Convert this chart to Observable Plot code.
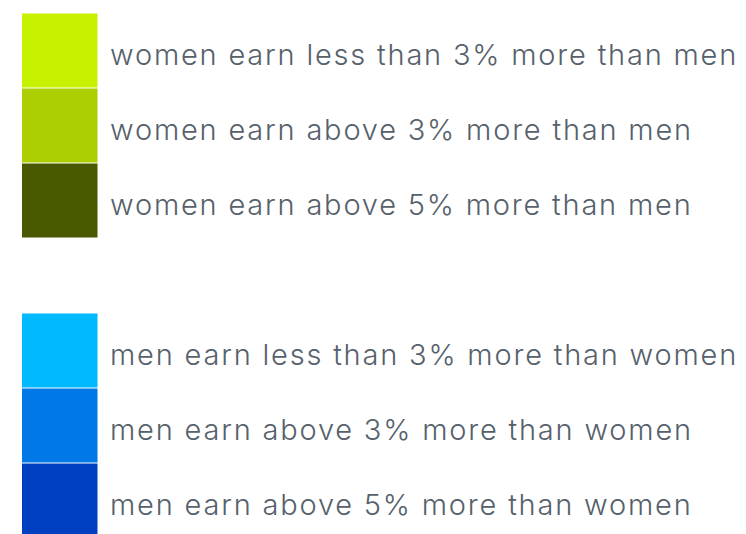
<!DOCTYPE html>
<html><head><meta charset="utf-8">
<script src="https://cdn.jsdelivr.net/npm/d3@7"></script>
<script src="https://cdn.jsdelivr.net/npm/@observablehq/plot@0.6"></script>
<style>
html,body{margin:0;padding:0;background:#fff;overflow:hidden;}
#chart svg{display:block;}
#chart svg text{letter-spacing:1.8px;}
</style>
</head><body><div id="chart"></div>
<script>
const categories = [
  "women earn less than 3% more than men",
  "women earn above 3% more than men",
  "women earn above 5% more than men",
  "",
  "men earn less than 3% more than women",
  "men earn above 3% more than women",
  "men earn above 5% more than women"
];
const colors = ["#c6f200", "#abcf00", "#495900", null, "#00b9ff", "#0078e6", "#0040c0"];

const rows = categories.map((c, i) => ({key: "r" + i, label: c, color: colors[i]}))
  .filter(d => d.color);

const chart = Plot.plot({
  width: 746,
  height: 534,
  margin: 0,
  style: {background: "#fff", fontFamily: "Inter, sans-serif"},
  x: {type: "linear", domain: [0, 1], range: [22, 97.5], axis: null},
  y: {type: "band", domain: categories.map((c, i) => "r" + i), range: [11, 539.5], padding: 0, axis: null},
  marks: [
    Plot.rect(rows, {x1: 0, x2: 1, y: "key", fill: "color", insetTop: 0.5, insetBottom: 0.5}),
    Plot.text(rows, {x: 1, y: "key", text: "label", textAnchor: "start", dx: 12, dy: 5, fontSize: 29, fontWeight: 300, fill: "#56616b"})
  ]
});
document.getElementById("chart").append(chart);
</script>
</body></html>
